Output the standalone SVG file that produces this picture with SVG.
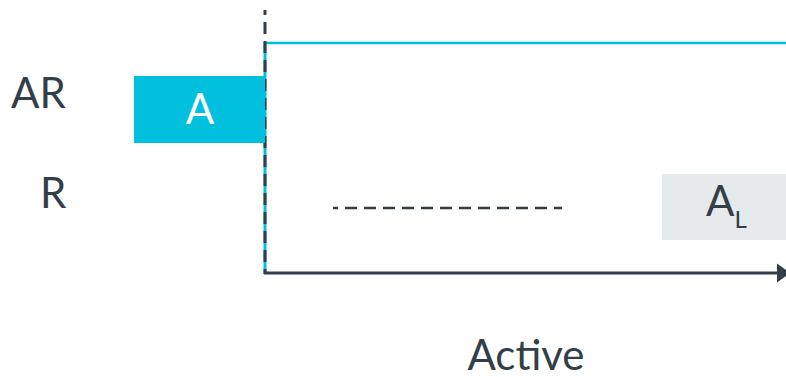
<svg xmlns="http://www.w3.org/2000/svg" width="786" height="377" viewBox="0 0 786 377">
<style>
.t{font-family:Lato,"Noto Sans",sans-serif;font-size:42px;fill:#333f48}
.dk{stroke:#333f48;fill:none}
</style>
<defs>
<marker id="arr" markerWidth="14" markerHeight="20" refX="13" refY="10" orient="auto" markerUnits="userSpaceOnUse">
<path d="M0,0.5 L13,10 L0,19.5 Z" fill="#333f48"/>
</marker>
</defs>
<rect width="786" height="377" fill="#fff"/>
<g id="labels">
<text class="t" x="11" y="108">AR</text>
<text class="t" x="40" y="208">R</text>
<text class="t" x="526" y="370" text-anchor="middle">Active</text>
</g>
<g id="connectors">
<line x1="265" y1="43" x2="786" y2="43" stroke="#00c0de" stroke-width="2.5"/>
<line x1="265" y1="42" x2="265" y2="274" stroke="#00c0de" stroke-width="3"/>
<line class="dk" x1="265" y1="10" x2="265" y2="274" stroke-width="3" stroke-dasharray="12,7" stroke-dashoffset="7"/>
<line class="dk" x1="333" y1="208" x2="562" y2="208" stroke-width="2.5" stroke-dasharray="12,7" stroke-dashoffset="7"/>
<line class="dk" x1="264" y1="273" x2="790" y2="273" stroke-width="3" marker-end="url(#arr)"/>
</g>
<g id="nodeA">
<rect x="134" y="76" width="131" height="67" fill="#00c0de"/>
<text class="t" x="200" y="124" text-anchor="middle" style="fill:#fff">A</text>
</g>
<g id="nodeAL">
<rect x="662" y="174" width="124" height="66" fill="#e5eaea"/>
<text class="t" x="706" y="216">A<tspan font-size="24" dy="12">L</tspan></text>
</g>
</svg>
